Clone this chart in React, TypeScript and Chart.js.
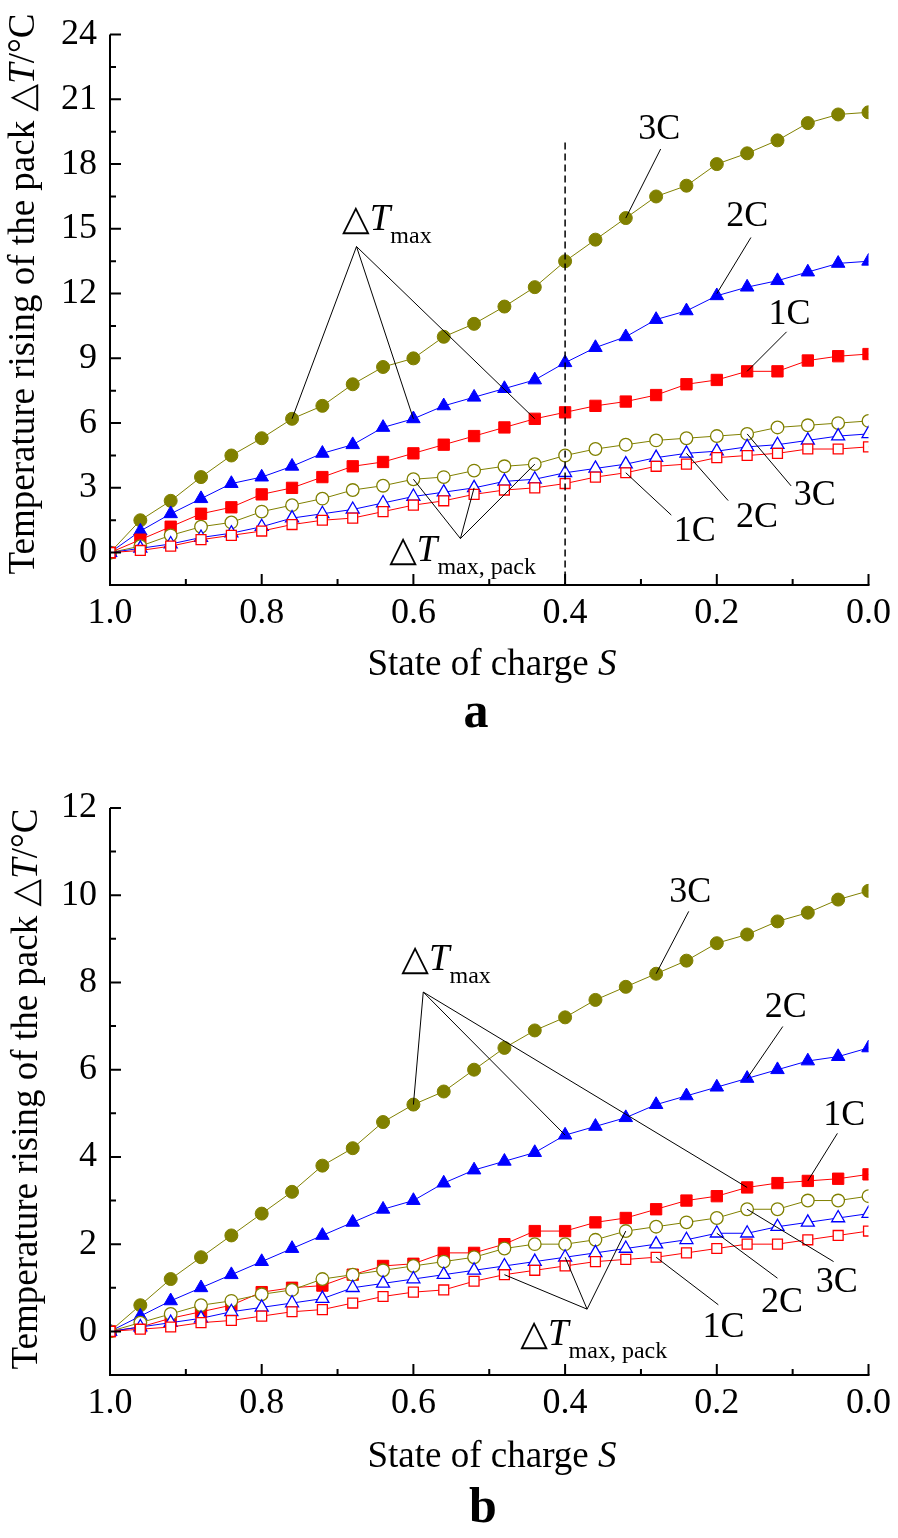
import React, { useEffect, useRef } from 'react';
import Chart from 'chart.js/auto';

// ---------- data ----------
const SOC = [1.0, 0.96, 0.92, 0.88, 0.84, 0.8, 0.76, 0.72, 0.68, 0.64, 0.6, 0.56, 0.52, 0.48, 0.44, 0.4, 0.36, 0.32, 0.28, 0.24, 0.2, 0.16, 0.12, 0.08, 0.04, 0.0];

const X_TICKS = [1.0, 0.8, 0.6, 0.4, 0.2, 0.0];
const X_MINOR = [0.9, 0.7, 0.5, 0.3, 0.1];

// panel a
const A_Y_TICKS = [0, 3, 6, 9, 12, 15, 18, 21, 24];
const A_Y_MINOR = [1.5, 4.5, 7.5, 10.5, 13.5, 16.5, 19.5, 22.5];
const A_MAX_3C = [0, 1.5, 2.4, 3.5, 4.5, 5.3, 6.2, 6.8, 7.8, 8.6, 9.0, 10.0, 10.6, 11.4, 12.3, 13.5, 14.5, 15.5, 16.5, 17.0, 18.0, 18.5, 19.1, 19.9, 20.3, 20.4];
const A_MAX_2C = [0, 1.0, 1.8, 2.5, 3.2, 3.5, 4.0, 4.6, 5.0, 5.8, 6.2, 6.8, 7.2, 7.6, 8.0, 8.8, 9.5, 10.0, 10.8, 11.2, 11.9, 12.3, 12.6, 13.0, 13.4, 13.5];
const A_MAX_1C = [0, 0.6, 1.2, 1.8, 2.1, 2.7, 3.0, 3.5, 4.0, 4.2, 4.6, 5.0, 5.4, 5.8, 6.2, 6.5, 6.8, 7.0, 7.3, 7.8, 8.0, 8.4, 8.4, 8.9, 9.1, 9.2];
const A_PACK_3C = [0, 0.3, 0.8, 1.2, 1.4, 1.9, 2.2, 2.5, 2.9, 3.1, 3.4, 3.5, 3.8, 4.0, 4.1, 4.5, 4.8, 5.0, 5.2, 5.3, 5.4, 5.5, 5.8, 5.9, 6.0, 6.1];
const A_PACK_2C = [0, 0.2, 0.4, 0.7, 0.9, 1.2, 1.6, 1.8, 2.0, 2.3, 2.6, 2.8, 3.0, 3.3, 3.4, 3.7, 3.9, 4.1, 4.4, 4.6, 4.7, 4.9, 5.0, 5.2, 5.4, 5.5];
const A_PACK_1C = [0, 0.1, 0.3, 0.6, 0.8, 1.0, 1.3, 1.5, 1.6, 1.9, 2.2, 2.4, 2.7, 2.9, 3.0, 3.2, 3.5, 3.7, 4.0, 4.1, 4.4, 4.5, 4.6, 4.8, 4.8, 4.9];

// panel b
const B_Y_TICKS = [0, 2, 4, 6, 8, 10, 12];
const B_Y_MINOR = [1, 3, 5, 7, 9, 11];
const B_MAX_3C = [0, 0.6, 1.2, 1.7, 2.2, 2.7, 3.2, 3.8, 4.2, 4.8, 5.2, 5.5, 6.0, 6.5, 6.9, 7.2, 7.6, 7.9, 8.2, 8.5, 8.9, 9.1, 9.4, 9.6, 9.9, 10.1];
const B_MAX_2C = [0, 0.35, 0.7, 1.0, 1.3, 1.6, 1.9, 2.2, 2.5, 2.8, 3.0, 3.4, 3.7, 3.9, 4.1, 4.5, 4.7, 4.9, 5.2, 5.4, 5.6, 5.8, 6.0, 6.2, 6.3, 6.5];
const B_MAX_1C = [0, 0.1, 0.3, 0.45, 0.6, 0.9, 1.0, 1.05, 1.3, 1.5, 1.55, 1.8, 1.8, 2.0, 2.3, 2.3, 2.5, 2.6, 2.8, 3.0, 3.1, 3.3, 3.4, 3.45, 3.5, 3.6];
const B_PACK_3C = [0, 0.2, 0.4, 0.6, 0.7, 0.85, 0.95, 1.2, 1.3, 1.4, 1.5, 1.6, 1.7, 1.9, 2.0, 2.0, 2.1, 2.3, 2.4, 2.5, 2.6, 2.8, 2.8, 3.0, 3.0, 3.1];
const B_PACK_2C = [0, 0.1, 0.2, 0.3, 0.45, 0.55, 0.65, 0.75, 1.0, 1.1, 1.2, 1.3, 1.4, 1.5, 1.6, 1.7, 1.8, 1.9, 2.0, 2.1, 2.25, 2.25, 2.4, 2.5, 2.6, 2.7];
const B_PACK_1C = [0, 0.05, 0.1, 0.2, 0.25, 0.35, 0.45, 0.5, 0.65, 0.8, 0.9, 0.95, 1.15, 1.3, 1.4, 1.5, 1.6, 1.65, 1.7, 1.8, 1.9, 2.0, 2.0, 2.1, 2.2, 2.3];

// annotations (data coordinates): [fromX, fromY, toX, toY]
type Leader = [number, number, number, number];
type RateLabel = { t: string; x: number; y: number };
type SymLabel = { sub: string; x: number; y: number };

const A_LEADERS: Leader[] = [
  [0.675, 14.18, 0.76, 6.2],
  [0.675, 14.18, 0.6, 6.2],
  [0.675, 14.18, 0.44, 6.2],
  [0.274, 18.7, 0.32, 15.5],
  [0.155, 14.6, 0.2, 12.0],
  [0.108, 10.23, 0.16, 8.4],
  [0.32, 3.7, 0.26, 1.74],
  [0.24, 4.6, 0.185, 2.41],
  [0.16, 5.5, 0.102, 3.09],
  [0.538, 0.65, 0.6, 3.4],
  [0.538, 0.65, 0.52, 3.0],
  [0.538, 0.65, 0.44, 4.1],
];
const A_RATE_LABELS: RateLabel[] = [
  { t: '3C', x: 0.276, y: 19.17 },
  { t: '2C', x: 0.16, y: 15.11 },
  { t: '1C', x: 0.104, y: 10.6 },
  { t: '1C', x: 0.229, y: 0.53 },
  { t: '2C', x: 0.147, y: 1.21 },
  { t: '3C', x: 0.071, y: 2.2 },
];
const A_SYM_LABELS: SymLabel[] = [
  { sub: 'max', x: 0.694, y: 14.97 },
  { sub: 'max, pack', x: 0.632, y: -0.37 },
];

const B_LEADERS: Leader[] = [
  [0.587, 7.78, 0.6, 5.2],
  [0.587, 7.78, 0.4, 4.5],
  [0.587, 7.78, 0.16, 3.3],
  [0.237, 9.63, 0.28, 8.2],
  [0.113, 6.99, 0.16, 5.8],
  [0.041, 4.54, 0.08, 3.45],
  [0.28, 1.7, 0.198, 0.61],
  [0.2, 2.25, 0.12, 1.22],
  [0.16, 2.8, 0.046, 1.6],
  [0.371, 0.51, 0.48, 1.3],
  [0.371, 0.51, 0.4, 1.7],
  [0.371, 0.51, 0.32, 2.3],
];
const B_RATE_LABELS: RateLabel[] = [
  { t: '3C', x: 0.235, y: 9.85 },
  { t: '2C', x: 0.109, y: 7.21 },
  { t: '1C', x: 0.032, y: 4.73 },
  { t: '1C', x: 0.191, y: -0.13 },
  { t: '2C', x: 0.114, y: 0.44 },
  { t: '3C', x: 0.042, y: 0.9 },
];
const B_SYM_LABELS: SymLabel[] = [
  { sub: 'max', x: 0.616, y: 8.29 },
  { sub: 'max, pack', x: 0.459, y: -0.31 },
];

const A_DASH = { x: 0.4, top: 19.0 };

// ---------- styles ----------
const SERIF = "'Liberation Serif', 'Times New Roman', 'DejaVu Serif', serif";
const SYM = "'DejaVu Sans', 'Noto Sans', sans-serif";
const OLIVE = '#808000';
const BLUE = '#0000ff';
const RED = '#ff0000';

interface Panel {
  letter: string;
  height: number;
  padTop: number;
  xAxisHeight: number;
  yMin: number;
  yMax: number;
  yTicks: number[];
  yMinor: number[];
  max3: number[];
  max2: number[];
  max1: number[];
  pack3: number[];
  pack2: number[];
  pack1: number[];
  leaders: Leader[];
  rates: RateLabel[];
  syms: SymLabel[];
  dash?: { x: number; top: number };
  yTitleCenter: number;
  yTitleBaseline: number;
  xTitleDy: number;
  letterX: number;
  letterDy: number;
}

const PANEL_A: Panel = {
  letter: 'a', height: 740, padTop: 20, xAxisHeight: 155,
  yMin: -1.5, yMax: 24, yTicks: A_Y_TICKS, yMinor: A_Y_MINOR,
  max3: A_MAX_3C, max2: A_MAX_2C, max1: A_MAX_1C,
  pack3: A_PACK_3C, pack2: A_PACK_2C, pack1: A_PACK_1C,
  leaders: A_LEADERS, rates: A_RATE_LABELS, syms: A_SYM_LABELS, dash: A_DASH,
  yTitleCenter: 294, yTitleBaseline: 34, xTitleDy: 90, letterX: 476, letterDy: 142,
};
const PANEL_B: Panel = {
  letter: 'b', height: 798, padTop: 68, xAxisHeight: 163,
  yMin: -1, yMax: 12, yTicks: B_Y_TICKS, yMinor: B_Y_MINOR,
  max3: B_MAX_3C, max2: B_MAX_2C, max1: B_MAX_1C,
  pack3: B_PACK_3C, pack2: B_PACK_2C, pack1: B_PACK_1C,
  leaders: B_LEADERS, rates: B_RATE_LABELS, syms: B_SYM_LABELS,
  yTitleCenter: 349, yTitleBaseline: 37, xTitleDy: 92, letterX: 483, letterDy: 147,
};

type Seg = { t: string; font: string; dy?: number };
function drawRich(ctx: CanvasRenderingContext2D, segs: Seg[], x: number, y: number, align: 'left' | 'center') {
  let total = 0;
  const widths = segs.map((s) => {
    ctx.font = s.font;
    const w = ctx.measureText(s.t).width;
    total += w;
    return w;
  });
  let cx = align === 'center' ? x - total / 2 : x;
  ctx.textAlign = 'left';
  ctx.textBaseline = 'alphabetic';
  segs.forEach((s, i) => {
    ctx.font = s.font;
    ctx.fillText(s.t, cx, y + (s.dy || 0));
    cx += widths[i];
  });
}

function makeDecor(p: Panel) {
  return {
    id: 'decor_' + p.letter,
    afterDraw(chart: any) {
      const ctx: CanvasRenderingContext2D = chart.ctx;
      const { left, right, top, bottom } = chart.chartArea;
      const xs = chart.scales.x;
      const ys = chart.scales.y;
      const X = (v: number) => xs.getPixelForValue(v);
      const Y = (v: number) => ys.getPixelForValue(v);
      ctx.save();
      ctx.fillStyle = '#000';
      ctx.strokeStyle = '#000';

      if (p.dash) {
        ctx.lineWidth = 1.5;
        ctx.setLineDash([7, 4]);
        ctx.beginPath();
        ctx.moveTo(X(p.dash.x), Y(p.dash.top));
        ctx.lineTo(X(p.dash.x), bottom);
        ctx.stroke();
        ctx.setLineDash([]);
      }

      // axes
      ctx.lineWidth = 2;
      ctx.beginPath();
      ctx.moveTo(left, top);
      ctx.lineTo(left, bottom + 1);
      ctx.moveTo(left - 1, bottom);
      ctx.lineTo(right + 1, bottom);
      ctx.stroke();
      ctx.beginPath();
      p.yTicks.forEach((v) => { const py = Y(v); ctx.moveTo(left, py); ctx.lineTo(left + 11, py); });
      p.yMinor.forEach((v) => { const py = Y(v); ctx.moveTo(left, py); ctx.lineTo(left + 6, py); });
      X_TICKS.forEach((v) => { const px = X(v); ctx.moveTo(px, bottom); ctx.lineTo(px, bottom - 11); });
      X_MINOR.forEach((v) => { const px = X(v); ctx.moveTo(px, bottom); ctx.lineTo(px, bottom - 6); });
      ctx.stroke();

      // leaders
      ctx.lineWidth = 1;
      ctx.beginPath();
      p.leaders.forEach(([x1, y1, x2, y2]) => { ctx.moveTo(X(x1), Y(y1)); ctx.lineTo(X(x2), Y(y2)); });
      ctx.stroke();

      // rate labels
      p.rates.forEach((r) => drawRich(ctx, [{ t: r.t, font: `36px ${SERIF}` }], X(r.x), Y(r.y), 'center'));

      // symbol labels
      p.syms.forEach((s) =>
        drawRich(ctx, [
          { t: '\u25B3', font: `36px ${SYM}` },
          { t: 'T', font: `italic 37px ${SERIF}` },
          { t: s.sub, font: `24px ${SERIF}`, dy: 13 },
        ], X(s.x), Y(s.y), 'left'));

      // x title
      drawRich(ctx, [
        { t: 'State of charge ', font: `37px ${SERIF}` },
        { t: 'S', font: `italic 37px ${SERIF}` },
      ], 492, bottom + p.xTitleDy, 'center');

      // y title
      ctx.save();
      ctx.translate(p.yTitleBaseline, p.yTitleCenter);
      ctx.rotate(-Math.PI / 2);
      drawRich(ctx, [
        { t: 'Temperature rising of the pack ', font: `37px ${SERIF}` },
        { t: '\u25B3', font: `36px ${SYM}` },
        { t: 'T', font: `italic 37px ${SERIF}` },
        { t: '/\u00B0C', font: `37px ${SERIF}` },
      ], 0, 0, 'center');
      ctx.restore();

      // panel letter
      drawRich(ctx, [{ t: p.letter, font: `bold 50px ${SERIF}` }], p.letterX, bottom + p.letterDy, 'center');

      ctx.restore();
    },
  };
}

function series(values: number[]) {
  return SOC.map((s, i) => ({ x: s, y: values[i] }));
}

function PanelChart({ p }: { p: Panel }) {
  const ref = useRef<HTMLCanvasElement>(null);
  useEffect(() => {
    if (!ref.current) return;
    const mk = (label: string, values: number[], color: string, style: string, radius: number, filled: boolean, order: number) => ({
      label,
      data: series(values),
      borderColor: color,
      borderWidth: 1,
      pointStyle: style,
      pointRadius: radius,
      pointBackgroundColor: filled ? color : '#ffffff',
      pointBorderColor: color,
      pointBorderWidth: filled ? 1 : 1.3,
      tension: 0,
      clip: 0,
      order,
    });
    const chart = new Chart(ref.current, {
      type: 'line',
      data: {
        datasets: [
          mk('ΔTmax,pack 1C', p.pack1, RED, 'rect', 7, false, 1),
          mk('ΔTmax,pack 2C', p.pack2, BLUE, 'triangle', 7.5, false, 2),
          mk('ΔTmax,pack 3C', p.pack3, OLIVE, 'circle', 6.3, false, 3),
          mk('ΔTmax 1C', p.max1, RED, 'rect', 8, true, 4),
          mk('ΔTmax 2C', p.max2, BLUE, 'triangle', 7.8, true, 5),
          mk('ΔTmax 3C', p.max3, OLIVE, 'circle', 6.5, true, 6),
        ] as any,
      },
      options: {
        responsive: false,
        maintainAspectRatio: false,
        animation: false,
        devicePixelRatio: 1,
        events: [],
        layout: { padding: { left: 0, right: 27, top: p.padTop, bottom: 0 } },
        plugins: {
          legend: { display: false },
          tooltip: { enabled: false },
          title: { display: false },
        },
        scales: {
          x: {
            type: 'linear',
            min: 0,
            max: 1,
            reverse: true,
            afterBuildTicks: (ax: any) => { ax.ticks = X_TICKS.map((v) => ({ value: v })); },
            afterFit: (ax: any) => { ax.height = p.xAxisHeight; },
            grid: { display: false, drawTicks: false },
            border: { display: false },
            ticks: {
              autoSkip: false,
              maxRotation: 0,
              color: '#000',
              padding: 7,
              font: { family: SERIF, size: 36 },
              callback: (v: any) => Number(v).toFixed(1),
            },
          },
          y: {
            type: 'linear',
            min: p.yMin,
            max: p.yMax,
            afterBuildTicks: (ax: any) => { ax.ticks = p.yTicks.map((v) => ({ value: v })); },
            afterFit: (ax: any) => { ax.width = 110; },
            grid: { display: false, drawTicks: false },
            border: { display: false },
            ticks: {
              color: '#000',
              padding: 13,
              font: { family: SERIF, size: 36 },
              callback: (v: any) => String(v),
            },
          },
        },
      } as any,
      plugins: [makeDecor(p)],
    });
    return () => chart.destroy();
  }, [p]);
  return <canvas ref={ref} width={898} height={p.height} style={{ display: 'block', width: 898, height: p.height }} />;
}

export default function App() {
  return (
    <div style={{ position: 'absolute', left: 0, top: 0, width: 898, height: 1538, background: '#ffffff' }}>
      <PanelChart p={PANEL_A} />
      <PanelChart p={PANEL_B} />
    </div>
  );
}
